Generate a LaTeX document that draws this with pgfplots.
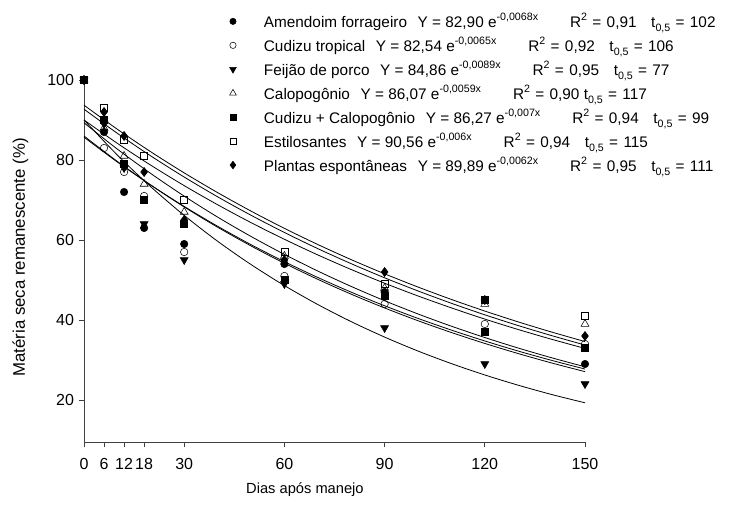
\documentclass[border=0pt]{standalone}
\usepackage{pgfplots}
\pgfplotsset{compat=1.18}
\usepackage{fontspec}
\setmainfont{Liberation Sans}
\newcommand{\gA}{\hspace{8pt}}
\newcommand{\gB}{\hspace{24pt}}
\newcommand{\gC}{\hspace{11pt}}
\newcommand{\eq}{\hspace{4pt}=\hspace{4pt}}
\newcommand{\sps}[1]{\raisebox{0.45em}{\fontsize{8}{9}\selectfont #1}}
\newcommand{\sbs}[1]{\raisebox{-0.25em}{\fontsize{8}{9}\selectfont #1}}
\begin{document}
\begin{tikzpicture}[x=1pt,y=1pt]
\path[use as bounding box] (-63,-46.5) rectangle (485.25,331.5);
\begin{axis}[
  at={(0,0)}, anchor=south west,
  scale only axis, width=375.75pt, height=271.5pt,
  xmin=0, xmax=150, ymin=9.5, ymax=100,
  clip=false,
  axis x line*=bottom, axis y line*=left,
  axis line style={black!75, line width=0.6pt},
  xtick={0,6,12,18,30,60,90,120,150},
  ytick={20,40,60,80,100},
  tick align=outside, major tick length=4pt,
  tick style={black!75, line width=0.6pt},
  ticklabel style={font=\fontsize{12}{14}\selectfont},
  xticklabel style={yshift=-5pt},
  /pgf/number format/assume math mode=true,
  xlabel={Dias após manejo},
  ylabel={Matéria seca remanescente (\%)},
  x label style={font=\fontsize{11}{13}\selectfont, at={(axis description cs:0.441,-0.1326)}, anchor=center},
  y label style={font=\fontsize{12.6}{14}\selectfont, at={(axis description cs:-0.127,0.51)}, anchor=center},
  legend style={at={(axis description cs:0.275,1.2)}, anchor=north west,
    draw=none, fill=none, font=\fontsize{11.5}{13}\selectfont, row sep=1.7pt},
  legend cell align=left,
  legend image code/.code={\path (0pt,0pt) (26pt,0pt); \draw[#1,every mark/.append style={scale=0.85}] plot coordinates {(5pt,0pt)};},
]
% fitted curves
\addplot[black, line width=0.6pt, smooth, forget plot] coordinates {(0,93.70)(10,87.68)(20,82.05)(30,76.78)(40,71.85)(50,67.23)(60,62.91)(70,58.87)(80,55.09)(90,51.55)(100,48.24)(110,45.14)(120,42.24)(130,39.53)(140,36.99)(150,34.61)};
\addplot[black, line width=0.6pt, smooth, forget plot] coordinates {(0,92.70)(10,86.66)(20,81.01)(30,75.74)(40,70.80)(50,66.19)(60,61.88)(70,57.84)(80,54.08)(90,50.55)(100,47.26)(110,44.18)(120,41.30)(130,38.61)(140,36.10)(150,33.74)};
\addplot[black, line width=0.6pt, smooth, forget plot] coordinates {(0,90.00)(10,84.16)(20,78.70)(30,73.59)(40,68.82)(50,64.35)(60,60.18)(70,56.27)(80,52.62)(90,49.20)(100,46.01)(110,43.03)(120,40.23)(130,37.62)(140,35.18)(150,32.90)};
\addplot[black, line width=0.6pt, smooth, forget plot] coordinates {(0,89.30)(10,82.71)(20,76.62)(30,70.97)(40,65.73)(50,60.89)(60,56.40)(70,52.24)(80,48.39)(90,44.82)(100,41.51)(110,38.45)(120,35.62)(130,32.99)(140,30.56)(150,28.30)};
\addplot[black, line width=0.6pt, smooth, forget plot] coordinates {(0,85.70)(10,79.49)(20,73.73)(30,68.39)(40,63.44)(50,58.84)(60,54.58)(70,50.63)(80,46.96)(90,43.56)(100,40.40)(110,37.48)(120,34.76)(130,32.24)(140,29.91)(150,27.74)};
\addplot[black, line width=0.6pt, smooth, forget plot] coordinates {(0,86.00)(10,79.63)(20,73.73)(30,68.26)(40,63.20)(50,58.52)(60,54.18)(70,50.17)(80,46.45)(90,43.01)(100,39.82)(110,36.87)(120,34.14)(130,31.61)(140,29.26)(150,27.09)};
\addplot[black, line width=0.6pt, smooth, forget plot] coordinates {(0,90.00)(10,81.22)(20,73.30)(30,66.15)(40,59.69)(50,53.87)(60,48.61)(70,43.87)(80,39.59)(90,35.73)(100,32.24)(110,29.10)(120,26.26)(130,23.70)(140,21.38)(150,19.30)};
% observed points
\addplot[only marks, mark=*, mark size=2.8pt, black, mark options={fill=black}] coordinates {(0,100)(6,87)(12,72)(18,63)(30,59)(60,54)(90,47)(120,45)(150,29)};
\addlegendentry{Amendoim forrageiro\gA Y = 82,90 e\sps{-0,0068x}\gB R\sps{2}\eq 0,91\gC t\sbs{0,5}\eq 102}
\addplot[only marks, mark=o, mark size=2.8pt, black, mark options={fill=white}] coordinates {(0,100)(6,83)(12,77)(18,71)(30,57)(60,51)(90,44)(120,39)(150,34)};
\addlegendentry{Cudizu tropical\gA Y = 82,54 e\sps{-0,0065x}\gB R\sps{2}\eq 0,92\gC t\sbs{0,5}\eq 106}
\addplot[only marks, mark=triangle*, mark size=3.4pt, black, mark options={fill=black, rotate=180}] coordinates {(0,100)(6,89)(12,78)(18,64)(30,55)(60,49)(90,38)(120,29)(150,24)};
\addlegendentry{Feijão de porco\gA Y = 84,86 e\sps{-0,0089x}\gB R\sps{2}\eq 0,95\gC t\sbs{0,5}\eq 77}
\addplot[only marks, mark=triangle, mark size=3.4pt, black, mark options={fill=white}] coordinates {(0,100)(6,88)(12,81)(18,74)(30,67)(60,56)(90,48)(120,44)(150,39)};
\addlegendentry{Calopogônio\gA Y = 86,07 e\sps{-0,0059x}\gB R\sps{2}\eq 0,90 t\sbs{0,5}\eq 117}
\addplot[only marks, mark=square*, mark size=2.6pt, black, mark options={fill=black}] coordinates {(0,100)(6,90)(12,79)(18,70)(30,64)(60,50)(90,46)(120,37)(150,33)};
\addlegendentry{Cudizu + Calopogônio\gA Y = 86,27 e\sps{-0,007x}\gB R\sps{2}\eq 0,94\gC t\sbs{0,5}\eq 99}
\addplot[only marks, mark=square, mark size=2.6pt, black, mark options={fill=white}] coordinates {(0,100)(6,93)(12,85)(18,81)(30,70)(60,57)(90,49)(120,45)(150,41)};
\addlegendentry{Estilosantes\gA Y = 90,56 e\sps{-0,006x}\gB R\sps{2}\eq 0,94\gC t\sbs{0,5}\eq 115}
\addplot[only marks, mark=diamond*, mark size=3.4pt, black, mark options={fill=black}] coordinates {(0,100)(6,92)(12,86)(18,77)(30,65)(60,55)(90,52)(120,45)(150,36)};
\addlegendentry{Plantas espontâneas\gA Y = 89,89 e\sps{-0,0062x}\gB R\sps{2}\eq 0,95\gC t\sbs{0,5}\eq 111}
\end{axis}
\end{tikzpicture}
\end{document}
